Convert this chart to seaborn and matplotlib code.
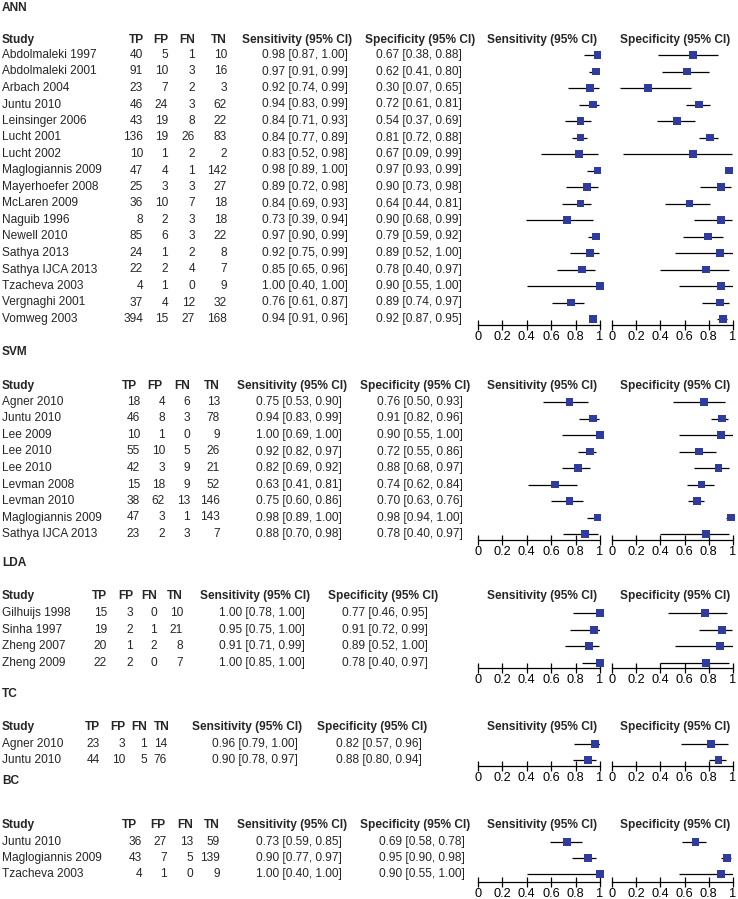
import numpy as np
import pandas as pd
import matplotlib
matplotlib.use("Agg")
import matplotlib.pyplot as plt
import seaborn as sns

# ANN
ann_study = ["Abdolmaleki 1997", "Abdolmaleki 2001", "Arbach 2004", "Juntu 2010",
             "Leinsinger 2006", "Lucht 2001", "Lucht 2002", "Maglogiannis 2009",
             "Mayerhoefer 2008", "McLaren 2009", "Naguib 1996", "Newell 2010",
             "Sathya 2013", "Sathya IJCA 2013", "Tzacheva 2003", "Vergnaghi 2001",
             "Vomweg 2003"]
ann_counts = [(40, 5, 1, 10), (91, 10, 3, 16), (23, 7, 2, 3), (46, 24, 3, 62),
              (43, 19, 8, 22), (136, 19, 26, 83), (10, 1, 2, 2), (47, 4, 1, 142),
              (25, 3, 3, 27), (36, 10, 7, 18), (8, 2, 3, 18), (85, 6, 3, 22),
              (24, 1, 2, 8), (22, 2, 4, 7), (4, 1, 0, 9), (37, 4, 12, 32),
              (394, 15, 27, 168)]
ann_sens = [(0.98, 0.87, 1.00), (0.97, 0.91, 0.99), (0.92, 0.74, 0.99), (0.94, 0.83, 0.99),
            (0.84, 0.71, 0.93), (0.84, 0.77, 0.89), (0.83, 0.52, 0.98), (0.98, 0.89, 1.00),
            (0.89, 0.72, 0.98), (0.84, 0.69, 0.93), (0.73, 0.39, 0.94), (0.97, 0.90, 0.99),
            (0.92, 0.75, 0.99), (0.85, 0.65, 0.96), (1.00, 0.40, 1.00), (0.76, 0.61, 0.87),
            (0.94, 0.91, 0.96)]
ann_spec = [(0.67, 0.38, 0.88), (0.62, 0.41, 0.80), (0.30, 0.07, 0.65), (0.72, 0.61, 0.81),
            (0.54, 0.37, 0.69), (0.81, 0.72, 0.88), (0.67, 0.09, 0.99), (0.97, 0.93, 0.99),
            (0.90, 0.73, 0.98), (0.64, 0.44, 0.81), (0.90, 0.68, 0.99), (0.79, 0.59, 0.92),
            (0.89, 0.52, 1.00), (0.78, 0.40, 0.97), (0.90, 0.55, 1.00), (0.89, 0.74, 0.97),
            (0.92, 0.87, 0.95)]

# SVM
svm_study = ["Agner 2010", "Juntu 2010", "Lee 2009", "Lee 2010", "Lee 2010",
             "Levman 2008", "Levman 2010", "Maglogiannis 2009", "Sathya IJCA 2013"]
svm_counts = [(18, 4, 6, 13), (46, 8, 3, 78), (10, 1, 0, 9), (55, 10, 5, 26), (42, 3, 9, 21),
              (15, 18, 9, 52), (38, 62, 13, 146), (47, 3, 1, 143), (23, 2, 3, 7)]
svm_sens = [(0.75, 0.53, 0.90), (0.94, 0.83, 0.99), (1.00, 0.69, 1.00), (0.92, 0.82, 0.97),
            (0.82, 0.69, 0.92), (0.63, 0.41, 0.81), (0.75, 0.60, 0.86), (0.98, 0.89, 1.00),
            (0.88, 0.70, 0.98)]
svm_spec = [(0.76, 0.50, 0.93), (0.91, 0.82, 0.96), (0.90, 0.55, 1.00), (0.72, 0.55, 0.86),
            (0.88, 0.68, 0.97), (0.74, 0.62, 0.84), (0.70, 0.63, 0.76), (0.98, 0.94, 1.00),
            (0.78, 0.40, 0.97)]

# LDA
lda_study = ["Gilhuijs 1998", "Sinha 1997", "Zheng 2007", "Zheng 2009"]
lda_counts = [(15, 3, 0, 10), (19, 2, 1, 21), (20, 1, 2, 8), (22, 2, 0, 7)]
lda_sens = [(1.00, 0.78, 1.00), (0.95, 0.75, 1.00), (0.91, 0.71, 0.99), (1.00, 0.85, 1.00)]
lda_spec = [(0.77, 0.46, 0.95), (0.91, 0.72, 0.99), (0.89, 0.52, 1.00), (0.78, 0.40, 0.97)]

# TC
tc_study = ["Agner 2010", "Juntu 2010"]
tc_counts = [(23, 3, 1, 14), (44, 10, 5, 76)]
tc_sens = [(0.96, 0.79, 1.00), (0.90, 0.78, 0.97)]
tc_spec = [(0.82, 0.57, 0.96), (0.88, 0.80, 0.94)]

# BC
bc_study = ["Juntu 2010", "Maglogiannis 2009", "Tzacheva 2003"]
bc_counts = [(36, 27, 13, 59), (43, 7, 5, 139), (4, 1, 0, 9)]
bc_sens = [(0.73, 0.59, 0.85), (0.90, 0.77, 0.97), (1.00, 0.40, 1.00)]
bc_spec = [(0.69, 0.58, 0.78), (0.95, 0.90, 0.98), (0.90, 0.55, 1.00)]

tick_vals = [0, 0.2, 0.4, 0.6, 0.8, 1]
tick_labels = ["0", "0.2", "0.4", "0.6", "0.8", "1"]

W, H = 738, 899
FS = 8.6
BLUE = "#2F3C9E"

sns.set_theme(style="ticks")
plt.rcParams['font.family'] = ['Liberation Sans', 'DejaVu Sans']


def make_df(study, counts, sens, spec):
    df = pd.DataFrame(counts, columns=["TP", "FP", "FN", "TN"])
    df.insert(0, "Study", study)
    df = pd.concat([df,
                    pd.DataFrame(sens, columns=["sens", "sens_lo", "sens_hi"]),
                    pd.DataFrame(spec, columns=["spec", "spec_lo", "spec_hi"])], axis=1)
    df["row"] = np.arange(len(df))
    return df


def fx(x):
    return x / W


def fy(y):
    return 1 - y / H


sections = [
    ("ANN", make_df(ann_study, ann_counts, ann_sens, ann_spec),
     dict(title=8, head=40, row0=55, dy=16.5, axis=325,
          cols=(143, 168, 195, 227, 348, 462), hcols=(144, 168, 195, 227, 352, 475))),
    ("SVM", make_df(svm_study, svm_counts, svm_sens, svm_spec),
     dict(title=352, head=386, row0=402, dy=16.5, axis=540,
          cols=(140, 165, 190, 220, 342, 463), hcols=(137, 162, 190, 220, 347, 470))),
    ("LDA", make_df(lda_study, lda_counts, lda_sens, lda_spec),
     dict(title=563, head=596, row0=613, dy=16.7, axis=668,
          cols=(107, 133, 157, 183, 305, 428), hcols=(107, 133, 157, 183, 310, 438))),
    ("TC", make_df(tc_study, tc_counts, tc_sens, tc_spec),
     dict(title=694, head=727, row0=744, dy=16, axis=766,
          cols=(100, 125, 147, 167, 298, 422), hcols=(100, 125, 147, 170, 302, 427))),
    ("BC", make_df(bc_study, bc_counts, bc_sens, bc_spec),
     dict(title=781, head=825, row0=842, dy=16, axis=882,
          cols=(142, 167, 193, 220, 342, 465), hcols=(137, 165, 193, 220, 347, 470))),
]

headers = ["TP", "FP", "FN", "TN", "Sensitivity (95% CI)", "Specificity (95% CI)"]

fig = plt.figure(figsize=(W / 100, H / 100), dpi=100)
fig.patch.set_facecolor("white")

for name, df, lay in sections:
    fig.text(fx(2), fy(lay["title"]), name, weight="bold", fontsize=FS, va="center")
    fig.text(fx(2), fy(lay["head"]), "Study", weight="bold", fontsize=FS, va="center")
    for lab, x in zip(headers, lay["hcols"]):
        fig.text(fx(x), fy(lay["head"]), lab, weight="bold", fontsize=FS,
                 ha="right", va="center")
    fig.text(fx(542), fy(lay["head"]), "Sensitivity (95% CI)", weight="bold",
             fontsize=FS, ha="center", va="center")
    fig.text(fx(675), fy(lay["head"]), "Specificity (95% CI)", weight="bold",
             fontsize=FS, ha="center", va="center")

    for _, r in df.iterrows():
        y = fy(lay["row0"] + r["row"] * lay["dy"])
        fig.text(fx(2), y, r["Study"], fontsize=FS, va="center")
        vals = [str(r["TP"]), str(r["FP"]), str(r["FN"]), str(r["TN"]),
                f"{r['sens']:.2f} [{r['sens_lo']:.2f}, {r['sens_hi']:.2f}]",
                f"{r['spec']:.2f} [{r['spec_lo']:.2f}, {r['spec_hi']:.2f}]"]
        for v, x in zip(vals, lay["cols"]):
            fig.text(fx(x), y, v, fontsize=FS, ha="right", va="center")

    top = lay["row0"] - lay["dy"] / 2
    for col, x0, x1 in [("sens", 478, 600), ("spec", 612, 733)]:
        ax = fig.add_axes([fx(x0), fy(lay["axis"]), (x1 - x0) / W, (lay["axis"] - top) / H])
        ax.patch.set_alpha(0)
        ax.hlines(df["row"], df[col + "_lo"], df[col + "_hi"], color="black", lw=0.9)
        sns.scatterplot(data=df, x=col, y="row", marker="s", s=32, color=BLUE,
                        edgecolor="none", linewidth=0, ax=ax, clip_on=False, zorder=3)
        ax.set_xlim(0, 1)
        ax.set_ylim((lay["axis"] - lay["row0"]) / lay["dy"], -0.5)
        sns.despine(ax=ax, left=True)
        ax.spines["bottom"].set_color("black")
        ax.spines["bottom"].set_linewidth(0.9)
        ax.set_xticks(tick_vals)
        ax.set_xticklabels(tick_labels)
        ax.set_yticks([])
        ax.set_xlabel("")
        ax.set_ylabel("")
        ax.tick_params(axis="x", direction="inout", length=7, width=0.9, pad=1,
                       labelsize=9.2, colors="black", bottom=True)

fig.savefig("out.png", dpi=100, facecolor="white")
